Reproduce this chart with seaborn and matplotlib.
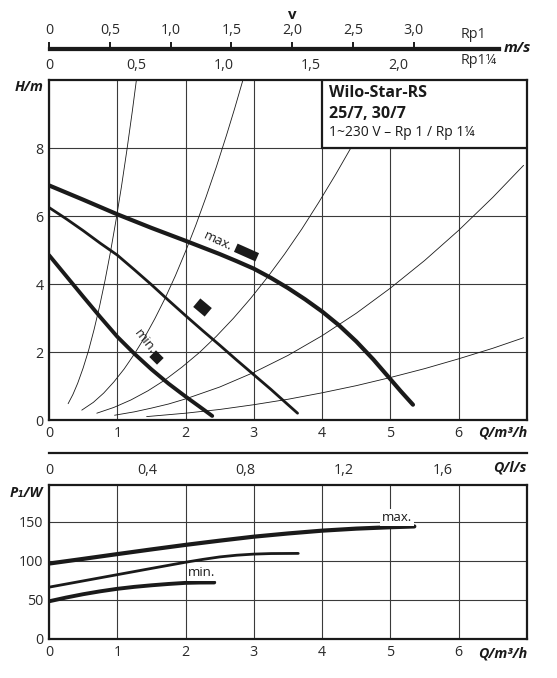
import numpy as np
import pandas as pd
import matplotlib
matplotlib.use('Agg')
import matplotlib.pyplot as plt
import seaborn as sns
from matplotlib.markers import MarkerStyle
from matplotlib.transforms import Affine2D
from matplotlib.patches import Rectangle

sns.set_theme(style='white')
plt.rcParams['font.family'] = ['Open Sans', 'DejaVu Sans']

# 1. 数据：泵特性曲线 H(Q)
q_max = [0, 0.5, 1, 1.5, 2, 2.5, 2.75, 3, 3.25, 3.5, 3.75, 4, 4.25, 4.5, 4.75,
         5, 5.15, 5.33]
h_max = [6.9, 6.48, 6.05, 5.65, 5.27, 4.88, 4.67, 4.45, 4.18, 3.88, 3.55, 3.19,
         2.78, 2.31, 1.78, 1.2, 0.85, 0.45]
q_mid = [0, 0.25, 0.5, 0.75, 1, 1.25, 1.5, 1.75, 2, 2.25, 2.5, 2.75, 3, 3.25, 3.5, 3.64]
h_mid = [6.25, 5.92, 5.57, 5.2, 4.85, 4.42, 3.98, 3.52, 3.07, 2.63, 2.2, 1.76,
         1.33, 0.9, 0.45, 0.2]
q_min = [0, 0.25, 0.5, 0.75, 1, 1.25, 1.5, 1.75, 2, 2.2, 2.39]
h_min = [4.85, 4.24, 3.63, 3.03, 2.45, 1.95, 1.49, 1.07, 0.69, 0.4, 0.12]

# 系统曲线（细线）
sys_q = [
    [0.28, 0.35, 0.42, 0.5, 0.58, 0.66, 0.74, 0.82, 0.9, 0.98, 1.06, 1.14, 1.22, 1.28],
    [0.48, 0.65, 0.8, 0.95, 1.1, 1.25, 1.4, 1.55, 1.7, 1.85, 2.0, 2.15, 2.3, 2.45,
     2.6, 2.72, 2.84],
    [0.7, 0.95, 1.2, 1.45, 1.7, 1.95, 2.2, 2.45, 2.7, 2.95, 3.2, 3.45, 3.7, 3.95,
     4.2, 4.42],
    [0.96, 1.25, 1.5, 1.75, 2, 2.5, 3, 3.5, 4, 4.5, 5, 5.5, 6, 6.5, 6.95],
    [1.43, 2, 2.5, 3, 3.5, 4, 4.5, 5, 5.5, 6, 6.5, 6.95],
]
sys_h = [
    [0.48, 0.75, 1.08, 1.53, 2.05, 2.66, 3.34, 4.1, 4.94, 5.86, 6.85, 7.93, 9.08, 10.0],
    [0.29, 0.52, 0.79, 1.12, 1.5, 1.94, 2.43, 2.98, 3.58, 4.24, 4.96, 5.73, 6.56,
     7.44, 8.38, 9.17, 10.0],
    [0.2, 0.37, 0.59, 0.86, 1.18, 1.56, 1.98, 2.46, 2.99, 3.57, 4.2, 4.88, 5.61,
     6.4, 7.23, 8.0],
    [0.14, 0.24, 0.35, 0.47, 0.62, 0.97, 1.4, 1.9, 2.48, 3.14, 3.88, 4.69, 5.58,
     6.55, 7.49],
    [0.1, 0.2, 0.31, 0.45, 0.61, 0.8, 1.01, 1.25, 1.51, 1.8, 2.11, 2.42],
]

# 转速档位标记
mark_q = [2.89, 2.24, 1.56]
mark_h = [4.95, 3.33, 1.86]

# 功率曲线 P1(Q)
pq_max = [0, 0.5, 1, 1.5, 2, 2.5, 3, 3.5, 4, 4.5, 5, 5.35]
p_max = [96.5, 102.5, 108.6, 114.6, 120.4, 125.8, 130.9, 135, 138.6, 141.2, 143, 144]
pq_mid = [0, 0.5, 1, 1.5, 2, 2.25, 2.5, 2.75, 3, 3.25, 3.65]
p_mid = [66.3, 74.3, 82.3, 90.3, 98.2, 101.8, 105, 107.2, 108.6, 109.3, 109.5]
pq_min = [0, 0.25, 0.5, 0.75, 1, 1.25, 1.5, 1.75, 2, 2.2, 2.42]
p_min = [48.2, 53, 57.3, 61, 64.2, 66.7, 68.7, 70.4, 71.8, 72.2, 72.3]

# 刻度
q_ticks = [0, 1, 2, 3, 4, 5, 6]
h_ticks = [0, 2, 4, 6, 8]
p_ticks = [0, 50, 100, 150]
ls_ticks = [0, 0.4, 0.8, 1.2, 1.6]
ls_labels = ['0', '0,4', '0,8', '1,2', '1,6']
v1_ticks = [0, 0.5, 1.0, 1.5, 2.0, 2.5, 3.0]
v1_labels = ['0', '0,5', '1,0', '1,5', '2,0', '2,5', '3,0']
v2_ticks = [0, 0.5, 1.0, 1.5, 2.0]
v2_labels = ['0', '0,5', '1,0', '1,5', '2,0']

W, H = 557, 678
fig = plt.figure(figsize=(W / 100, H / 100), dpi=100)


def rect(l, r, t, b):
    return [l / W, 1 - b / H, (r - l) / W, (b - t) / H]


ink = '#1a1a1a'
tick_c = '#2a2a2a'
fs = 10.3

# 2. 主图 H-Q
ax = fig.add_axes(rect(49, 527, 80, 420))
ax.set_xlim(0, 7)
ax.set_ylim(0, 10)
ax.set_xticks(q_ticks)
ax.set_yticks(h_ticks)
ax.grid(True, color='#3a3a3a', lw=0.8)
ax.set_axisbelow(True)
ax.tick_params(length=0, labelsize=fs, colors=tick_c, pad=4)
for s in ax.spines.values():
    s.set_linewidth(1.6)
    s.set_color(ink)

for qs, hs in zip(sys_q, sys_h):
    sns.lineplot(x=qs, y=hs, ax=ax, color=ink, lw=0.6, zorder=2)
sns.lineplot(x=q_max, y=h_max, ax=ax, color=ink, lw=3.0, zorder=3)
sns.lineplot(x=q_mid, y=h_mid, ax=ax, color=ink, lw=2.0, zorder=3)
sns.lineplot(x=q_min, y=h_min, ax=ax, color=ink, lw=2.8, zorder=3)

shapes = [(2.6, 1.0, -24, 6.5), (1.35, 1.0, -40, 8), (1.15, 1.0, -45, 6.8)]
for q, h, (sx, sy, rot, ms) in zip(mark_q, mark_h, shapes):
    m = MarkerStyle('s', transform=Affine2D().scale(sx, sy).rotate_deg(rot))
    ax.scatter([q], [h], marker=m, s=ms ** 2, color=ink, zorder=4, linewidths=0)

ax.text(2.47, 5.25, 'max.', rotation=-25, fontsize=9.5, color=ink,
        ha='center', va='center', zorder=4)
ax.text(1.41, 2.3, 'min.', rotation=-52, fontsize=9.5, color=ink,
        ha='center', va='center', zorder=4)

ax.add_patch(Rectangle((4, 8), 3, 2, fc='white', ec=ink, lw=1.6, zorder=5))
ax.text(4.1, 9.63, 'Wilo-Star-RS', fontsize=11.5, fontweight='bold', color=ink,
        va='center', zorder=6)
ax.text(4.1, 9.0, '25/7, 30/7', fontsize=11.5, fontweight='bold', color=ink,
        va='center', zorder=6)
ax.text(4.1, 8.45, '1~230 V – Rp 1 / Rp 1¼', fontsize=10, color=ink,
        va='center', zorder=6)

ax.text(-0.012, 0.979, 'H/m', transform=ax.transAxes, ha='right', va='center',
        fontsize=fs, fontweight='bold', fontstyle='italic', color=ink)
ax.text(1.0, -0.038, 'Q/m³/h', transform=ax.transAxes, ha='right', va='center',
        fontsize=fs, fontweight='bold', fontstyle='italic', color=ink)

# 3. 流量 l/s 标尺
ax_ls = fig.add_axes(rect(49, 527, 452, 453))
ax_ls.set_xlim(0, 7 / 3.6)
ax_ls.set_yticks([])
ax_ls.set_xticks(ls_ticks)
ax_ls.set_xticklabels(ls_labels)
for k in ['top', 'left', 'right']:
    ax_ls.spines[k].set_visible(False)
ax_ls.spines['bottom'].set_linewidth(1.6)
ax_ls.spines['bottom'].set_color(ink)
ax_ls.tick_params(axis='x', direction='out', length=4, width=1.4, color=ink,
                  labelsize=fs, labelcolor=tick_c, pad=3)
ax_ls.patch.set_alpha(0)
fig.text(527 / W, 1 - 468 / H, 'Q/l/s', ha='right', va='center', fontsize=fs,
         fontweight='bold', fontstyle='italic', color=ink)

# 4. 流速 v 标尺（Rp1 向上，Rp1¼ 向下）
v1_end = 451 / 121.6
v2_end = 451 / 174.8
ax_v1 = fig.add_axes(rect(49, 527, 48, 49))
ax_v1.set_xlim(0, 478 / 121.6)
ax_v1.set_yticks([])
ax_v1.xaxis.set_ticks_position('top')
ax_v1.set_xticks(v1_ticks)
ax_v1.set_xticklabels(v1_labels)
for k in ['bottom', 'left', 'right']:
    ax_v1.spines[k].set_visible(False)
ax_v1.spines['top'].set_linewidth(1.6)
ax_v1.spines['top'].set_color(ink)
ax_v1.spines['top'].set_bounds(0, v1_end)
ax_v1.tick_params(axis='x', direction='out', length=4, width=1.4, color=ink,
                  labelsize=fs, labelcolor=tick_c, pad=3)
ax_v1.patch.set_alpha(0)

ax_v2 = fig.add_axes(rect(49, 527, 49, 50))
ax_v2.set_xlim(0, 478 / 174.8)
ax_v2.set_yticks([])
ax_v2.set_xticks(v2_ticks)
ax_v2.set_xticklabels(v2_labels)
for k in ['top', 'left', 'right']:
    ax_v2.spines[k].set_visible(False)
ax_v2.spines['bottom'].set_linewidth(1.6)
ax_v2.spines['bottom'].set_color(ink)
ax_v2.spines['bottom'].set_bounds(0, v2_end)
ax_v2.tick_params(axis='x', direction='out', length=4, width=1.4, color=ink,
                  labelsize=fs, labelcolor=tick_c, pad=2)
ax_v2.patch.set_alpha(0)

fig.text(461 / W, 1 - 35 / H, 'Rp1', ha='left', va='center', fontsize=fs, color=tick_c)
fig.text(461 / W, 1 - 61 / H, 'Rp1¼', ha='left', va='center', fontsize=fs, color=tick_c)
fig.text(531 / W, 1 - 48 / H, 'm/s', ha='right', va='center', fontsize=fs + 0.7,
         fontweight='bold', fontstyle='italic', color=ink)
fig.text(292 / W, 1 - 15 / H, 'v', ha='center', va='center', fontsize=fs + 0.5,
         fontweight='bold', color=ink)

# 5. 功率图 P1-Q
bx = fig.add_axes(rect(49, 527, 485, 639))
bx.set_xlim(0, 7)
bx.set_ylim(0, 197)
bx.set_xticks(q_ticks)
bx.set_yticks(p_ticks)
bx.grid(True, color='#3a3a3a', lw=0.8)
bx.set_axisbelow(True)
bx.tick_params(length=0, labelsize=fs, colors=tick_c, pad=4)
for s in bx.spines.values():
    s.set_linewidth(1.6)
    s.set_color(ink)

sns.lineplot(x=pq_max, y=p_max, ax=bx, color=ink, lw=3.0, zorder=3)
sns.lineplot(x=pq_mid, y=p_mid, ax=bx, color=ink, lw=2.0, zorder=3)
sns.lineplot(x=pq_min, y=p_min, ax=bx, color=ink, lw=2.8, zorder=3)

bx.text(5.1, 155, 'max.', fontsize=9.5, color=ink, ha='center', va='center', zorder=4,
        bbox=dict(fc='white', ec='none', pad=1.5))
bx.text(2.24, 84.5, 'min.', fontsize=9.5, color=ink, ha='center', va='center', zorder=4,
        bbox=dict(fc='white', ec='none', pad=1.0))

bx.text(-0.012, 0.948, 'P₁/W', transform=bx.transAxes, ha='right', va='center',
        fontsize=fs, fontweight='bold', fontstyle='italic', color=ink)
bx.text(1.0, -0.097, 'Q/m³/h', transform=bx.transAxes, ha='right', va='center',
        fontsize=fs, fontweight='bold', fontstyle='italic', color=ink)

fig.savefig('out.png', dpi=100)
